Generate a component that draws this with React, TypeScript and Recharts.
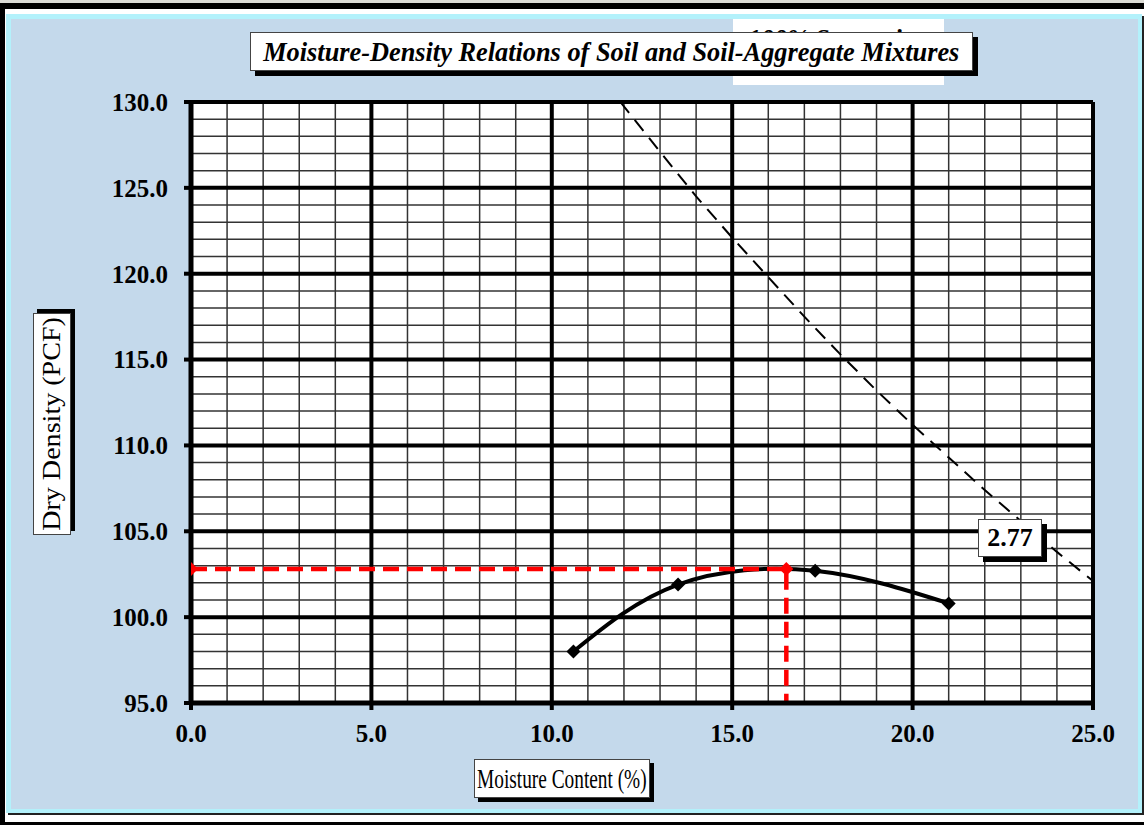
import React from 'react';
import { ComposedChart, Line, XAxis, YAxis, ReferenceLine, ReferenceArea } from 'recharts';

// proctor test points
const moisture = [10.6, 13.5, 17.3, 21.0];
const density = [98.0, 101.9, 102.7, 100.8];

// 100% saturation line (Gs = 2.77)
const satMoisture = [11.9, 13, 14, 15, 16, 17, 18, 19, 20, 21, 22, 23, 24, 25];
const satDensity = [130.0, 127.1, 124.5, 122.1, 119.8, 117.5, 115.3, 113.2, 111.2, 109.3, 107.4, 105.6, 103.8, 102.1];

// optimum moisture / max dry density guide
const optMoisture = [0, 16.5, 16.5];
const optDensity = [102.8, 102.8, 95];

const xTicks = [0, 5, 10, 15, 20, 25];
const yTicks = [95, 100, 105, 110, 115, 120, 125, 130];

const proctorData = moisture.map((x, i) => ({ x, y: density[i] }));
const satData = satMoisture.map((x, i) => ({ x, y: satDensity[i] }));
const optData = optMoisture.map((x, i) => ({ x, y: optDensity[i] }));

const minorX = Array.from({ length: 26 }, (_, i) => i).filter((v) => v % 5 !== 0);
const minorY = Array.from({ length: 36 }, (_, i) => 95 + i).filter((v) => v % 5 !== 0);

const serif = "'Liberation Serif', 'Times New Roman', serif";

const diamond = (color: string, skip?: number) => (props: any) => {
  const { cx, cy, index } = props;
  if (index === skip || cx == null || cy == null) return <g key={`d-${index}`} />;
  const r = 7;
  return (
    <polygon
      key={`d-${index}`}
      points={`${cx},${cy - r} ${cx + r},${cy} ${cx},${cy + r} ${cx - r},${cy}`}
      fill={color}
    />
  );
};

const tickStyle = { fontSize: 25, fontWeight: 'bold', fill: '#000', fontFamily: serif };

const box: React.CSSProperties = {
  position: 'absolute',
  background: '#fff',
  border: '1px solid #444',
  boxSizing: 'border-box',
  fontFamily: serif,
  color: '#000',
  whiteSpace: 'nowrap',
  display: 'flex',
  alignItems: 'center',
  justifyContent: 'center',
};

const App = () => {
  return (
    <div style={{ position: 'absolute', left: 0, top: 0, width: 1144, height: 825, background: '#fff', overflow: 'hidden' }}>
      <div style={{ position: 'absolute', left: 0, top: 0, width: 1144, height: 3, background: '#dcdcd6' }} />
      <div style={{ position: 'absolute', left: 0, top: 3, width: 1144, height: 6, background: '#000' }} />
      <div style={{ position: 'absolute', left: 0, top: 3, width: 5, height: 822, background: '#000' }} />
      <div style={{ position: 'absolute', left: 0, top: 822, width: 1144, height: 3, background: '#000' }} />
      <div
        style={{
          position: 'absolute', left: 6, top: 14, width: 1136, height: 799,
          background: '#b3f1fb', boxShadow: '2px 2px 0 #222',
        }}
      >
        <div style={{ position: 'absolute', left: 5, top: 5, right: 4, bottom: 4, background: '#c4d9eb' }} />
      </div>

      <div style={{ position: 'absolute', left: 0, top: 0 }}>
        <ComposedChart width={1144} height={825} margin={{ top: 102, right: 51, bottom: 62, left: 111 }}>
          <XAxis
            type="number"
            dataKey="x"
            domain={[0, 25]}
            ticks={xTicks}
            allowDataOverflow
            height={60}
            tickFormatter={(v) => v.toFixed(1)}
            tick={tickStyle}
            tickSize={7}
            tickMargin={14}
            axisLine={{ stroke: '#000', strokeWidth: 5 }}
            tickLine={{ stroke: '#000', strokeWidth: 4 }}
          />
          <YAxis
            type="number"
            dataKey="y"
            domain={[95, 130]}
            ticks={yTicks}
            allowDataOverflow
            width={80}
            tickFormatter={(v) => v.toFixed(1)}
            tick={tickStyle}
            tickSize={7}
            tickMargin={16}
            axisLine={{ stroke: '#000', strokeWidth: 5 }}
            tickLine={{ stroke: '#000', strokeWidth: 4 }}
          />
          <ReferenceArea x1={0} x2={25} y1={95} y2={130} fill="#fff" fillOpacity={1} stroke="none" />
          {minorX.map((v) => (
            <ReferenceLine key={`mx${v}`} x={v} stroke="#333" strokeWidth={1.5} />
          ))}
          {minorY.map((v) => (
            <ReferenceLine key={`my${v}`} y={v} stroke="#333" strokeWidth={1.5} />
          ))}
          {xTicks.map((v) => (
            <ReferenceLine key={`Mx${v}`} x={v} stroke="#000" strokeWidth={4} />
          ))}
          {yTicks.map((v) => (
            <ReferenceLine key={`My${v}`} y={v} stroke="#000" strokeWidth={4} />
          ))}
          <Line
            data={satData}
            dataKey="y"
            type="linear"
            stroke="#000"
            strokeWidth={2}
            strokeDasharray="14 9"
            dot={false}
            isAnimationActive={false}
          />
          <Line
            data={proctorData}
            dataKey="y"
            type="natural"
            stroke="#000"
            strokeWidth={4}
            dot={diamond('#000')}
            isAnimationActive={false}
          />
          <Line
            data={optData}
            dataKey="y"
            type="linear"
            stroke="#ff0000"
            strokeWidth={4.5}
            strokeDasharray="16 8"
            dot={diamond('#ff0000', 2)}
            isAnimationActive={false}
          />
        </ComposedChart>
      </div>

      <div style={{ ...box, left: 733, top: 19, width: 211, height: 66, border: 'none', alignItems: 'flex-start', fontWeight: 'bold', fontStyle: 'italic', fontSize: 26 }}>
        <div style={{ marginTop: 5 }}>100% Saturation</div>
      </div>
      <div style={{ ...box, left: 250, top: 32, width: 723, height: 39, fontWeight: 'bold', fontStyle: 'italic', fontSize: 28, boxShadow: '5px 5px 0 #000' }}>
        <span style={{ display: 'inline-block', transform: 'scaleX(0.94)' }}>
          Moisture-Density Relations of Soil and Soil-Aggregate Mixtures
        </span>
      </div>
      <div style={{ ...box, left: 33, top: 313, width: 38, height: 222, boxShadow: '4px -4px 0 #000' }}>
        <div style={{ writingMode: 'vertical-rl', transform: 'rotate(180deg) scaleY(1.08)', fontSize: 26 }}>Dry Density (PCF)</div>
      </div>
      <div style={{ ...box, left: 474, top: 759, width: 176, height: 39, fontSize: 28, boxShadow: '4px 4px 0 #000' }}>
        <span style={{ display: 'inline-block', transform: 'scaleX(0.69)' }}>Moisture Content (%)</span>
      </div>
      <div style={{ ...box, left: 978, top: 519, width: 64, height: 38, fontSize: 26, fontWeight: 'bold', boxShadow: '5px 5px 0 #000' }}>
        2.77
      </div>
    </div>
  );
};

export default App;
